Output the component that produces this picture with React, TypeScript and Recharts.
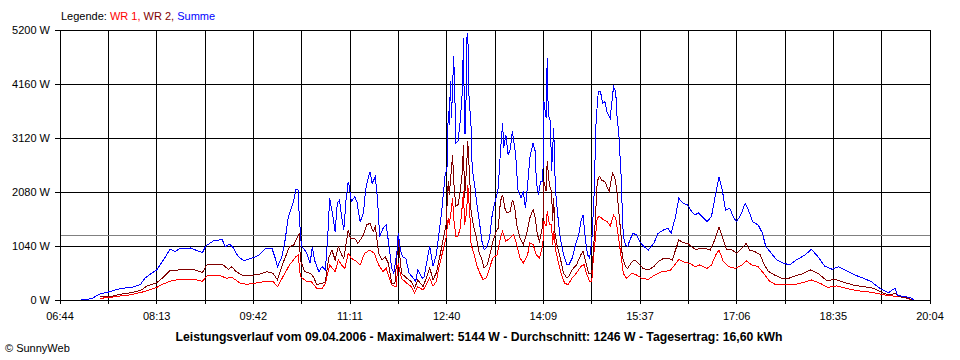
import { LineChart, Line, XAxis, YAxis, CartesianGrid, ReferenceLine } from "recharts"

// x values are minutes after 06:44, y values are watts
const timeLabels = ["06:44", "08:13", "09:42", "11:11", "12:40", "14:09", "15:37", "17:06", "18:35", "20:04"]
const spanMinutes = 800
const powerTicks = [0, 1040, 2080, 3120, 4160, 5200]
const average = 1246

const wr1: [number, number][] = [
  [37, 32], [46, 51], [55, 77], [66, 103], [77, 160], [89, 244], [95, 308], [101, 360], [110, 398], [123, 398],
  [131, 360], [135, 462], [147, 475], [153, 417], [158, 437], [166, 321], [172, 302], [183, 334], [187, 353], [196, 353],
  [200, 257], [205, 449], [211, 674], [217, 834], [219, 867], [221, 449], [227, 353], [231, 353], [236, 225], [241, 225],
  [244, 321], [248, 674], [253, 546], [256, 770], [259, 674], [262, 610], [265, 899], [268, 802], [273, 738], [276, 674],
  [280, 899], [285, 963], [289, 899], [293, 674], [297, 546], [300, 610], [305, 289], [309, 257], [311, 706], [314, 417],
  [319, 321], [323, 257], [326, 141], [329, 257], [334, 193], [340, 424], [343, 263], [346, 360], [349, 680], [352, 937],
  [355, 1194], [357, 1579], [358, 1451], [360, 1772], [361, 1965], [362, 1579], [364, 1226], [366, 1226], [368, 1387], [370, 1836],
  [371, 2093], [372, 1451], [374, 1708], [375, 2221], [377, 1579], [378, 1066], [381, 873], [383, 680], [386, 520], [389, 392],
  [392, 424], [395, 616], [398, 809], [402, 873], [405, 1194], [407, 1322], [410, 1130], [414, 1194], [417, 1258], [420, 1066],
  [423, 809], [426, 713], [430, 873], [432, 1098], [435, 1066], [438, 873], [441, 809], [444, 1066], [445, 1515], [447, 1419],
  [448, 1708], [450, 1451], [452, 1451], [453, 1066], [454, 1322], [456, 937], [458, 745], [461, 488], [464, 327], [467, 295],
  [471, 424], [475, 520], [479, 648], [482, 680], [484, 520], [487, 360], [489, 360], [490, 680], [492, 1130], [494, 1579],
  [496, 1611], [500, 1541], [503, 1509], [506, 1425], [509, 1637], [511, 1573], [513, 1284], [516, 835], [518, 514], [521, 417],
  [526, 514], [530, 482], [535, 417], [541, 398], [547, 482], [553, 546], [561, 565], [564, 642], [569, 783], [573, 738],
  [579, 706], [584, 642], [588, 674], [595, 610], [599, 674], [603, 867], [606, 963], [610, 738], [615, 642], [621, 610],
  [627, 674], [631, 757], [636, 674], [642, 642], [647, 514], [652, 372], [657, 308], [665, 289], [674, 289], [683, 334],
  [691, 385], [699, 321], [706, 244], [714, 270], [723, 225], [733, 180], [742, 160], [751, 128], [759, 96], [766, 77],
  [772, 64], [780, 32], [783, 0],
]

const wr2: [number, number][] = [
  [37, 64], [46, 64], [55, 109], [66, 141], [75, 193], [80, 270], [89, 334], [95, 437], [101, 565], [109, 578],
  [117, 597], [124, 578], [131, 533], [135, 674], [144, 687], [150, 674], [155, 591], [158, 642], [162, 546], [169, 462],
  [178, 481], [184, 501], [190, 546], [196, 514], [200, 385], [205, 706], [211, 1027], [215, 1059], [217, 1156], [220, 1284],
  [221, 770], [225, 546], [230, 514], [233, 449], [236, 300], [241, 321], [244, 353], [247, 802], [250, 963], [253, 770],
  [256, 1027], [259, 867], [261, 802], [265, 1348], [267, 1188], [271, 1188], [274, 1091], [279, 1252], [282, 1445], [285, 1477],
  [288, 1316], [290, 1412], [293, 899], [296, 770], [299, 834], [302, 706], [305, 321], [308, 321], [311, 1188], [314, 514],
  [319, 417], [323, 353], [326, 225], [329, 385], [334, 257], [340, 616], [343, 392], [346, 520], [349, 809], [352, 1130],
  [355, 1451], [357, 2286], [358, 2029], [360, 2542], [361, 2799], [362, 2286], [364, 1804], [366, 1836], [368, 2093], [370, 2478],
  [371, 2992], [372, 1965], [374, 2607], [375, 3056], [377, 2221], [378, 1708], [380, 1451], [383, 1194], [385, 937], [388, 777],
  [390, 616], [393, 680], [395, 841], [398, 1130], [401, 1322], [403, 1387], [405, 1900], [407, 2029], [409, 1772], [411, 1676],
  [414, 1708], [416, 1932], [418, 1804], [420, 1451], [423, 1194], [426, 1066], [429, 1258], [432, 1579], [435, 1740], [437, 1579],
  [439, 1258], [441, 1130], [444, 1451], [445, 2286], [447, 2093], [448, 2671], [450, 2221], [452, 2093], [453, 1515], [454, 1965],
  [455, 1322], [457, 1066], [460, 809], [463, 520], [466, 424], [468, 456], [471, 584], [475, 680], [479, 873], [481, 937],
  [484, 680], [486, 520], [489, 520], [490, 809], [492, 1451], [494, 2286], [496, 2382], [498, 2311], [501, 2279], [505, 2087],
  [508, 2440], [510, 2375], [512, 2119], [514, 1669], [516, 1220], [517, 835], [520, 642], [522, 610], [526, 738], [529, 770],
  [532, 706], [536, 610], [541, 578], [546, 642], [550, 738], [555, 802], [559, 802], [563, 770], [566, 963], [569, 1156],
  [573, 1104], [577, 1091], [581, 1027], [585, 963], [588, 995], [593, 995], [598, 963], [602, 1156], [606, 1412], [609, 1220],
  [613, 963], [618, 963], [622, 899], [627, 995], [631, 1091], [634, 963], [639, 931], [644, 867], [647, 706], [651, 559],
  [657, 481], [664, 417], [670, 417], [674, 449], [682, 501], [690, 578], [697, 514], [705, 372], [713, 398], [722, 334],
  [729, 289], [739, 257], [748, 225], [756, 141], [762, 96], [768, 128], [772, 64], [780, 32], [784, 0],
]

const summe: [number, number][] = [
  [19, 0], [29, 25], [37, 120], [46, 160], [52, 205], [60, 231], [67, 250], [74, 300], [78, 417], [84, 514],
  [89, 578], [94, 738], [98, 867], [101, 976], [106, 937], [110, 989], [120, 1002], [126, 950], [131, 912], [134, 1040],
  [141, 1136], [149, 1168], [152, 1027], [156, 1078], [159, 1014], [164, 835], [169, 758], [176, 802], [182, 854], [184, 886],
  [189, 989], [195, 989], [198, 802], [200, 642], [204, 834], [207, 1156], [210, 1605], [213, 1785], [215, 1926], [217, 2131],
  [219, 2119], [220, 1605], [222, 1027], [224, 995], [227, 899], [230, 706], [232, 1027], [234, 770], [238, 546], [241, 642],
  [244, 578], [246, 1156], [248, 1958], [251, 1605], [253, 1316], [255, 1862], [257, 1926], [259, 1605], [261, 1348], [263, 1926],
  [265, 2279], [266, 2183], [268, 1894], [271, 1990], [273, 1894], [276, 1509], [279, 1669], [281, 2119], [283, 2311], [285, 2472],
  [287, 2247], [290, 2375], [292, 1926], [294, 1220], [297, 1380], [300, 1445], [303, 963], [305, 610], [307, 514], [310, 963],
  [311, 1284], [313, 963], [315, 834], [318, 802], [321, 514], [324, 449], [327, 353], [329, 578], [333, 417], [335, 449],
  [337, 706], [340, 1034], [343, 648], [346, 873], [348, 1194], [351, 1708], [354, 2382], [356, 2574], [357, 3634], [358, 3377],
  [359, 4211], [360, 3505], [362, 4693], [363, 4019], [364, 3024], [366, 3056], [368, 3441], [370, 4019], [371, 5046], [372, 3216],
  [373, 3216], [374, 5046], [375, 5144], [376, 3955], [378, 3345], [379, 2542], [382, 2093], [383, 1900], [386, 1451], [388, 1130],
  [390, 969], [392, 1002], [395, 1194], [397, 1579], [399, 1804], [401, 1965], [403, 2157], [405, 2863], [407, 3409], [408, 2928],
  [410, 3184], [412, 2799], [414, 2895], [416, 3249], [417, 3088], [419, 2799], [421, 2125], [424, 1965], [426, 2093], [428, 1772],
  [430, 2221], [432, 2735], [435, 3024], [437, 2863], [438, 2286], [440, 2029], [442, 2286], [444, 2286], [445, 3826], [447, 3505],
  [448, 4661], [449, 3569], [451, 3441], [452, 2478], [454, 3313], [455, 2478], [456, 2029], [458, 1579], [460, 1194], [463, 873],
  [466, 680], [468, 680], [471, 809], [474, 1066], [477, 1258], [479, 1515], [481, 1643], [483, 1194], [485, 873], [487, 809],
  [489, 1130], [491, 1965], [493, 3467], [495, 4013], [497, 4013], [499, 3788], [501, 3820], [503, 3627], [506, 3499], [507, 3724],
  [509, 4109], [511, 4013], [512, 3595], [514, 3146], [516, 2375], [517, 1733], [518, 1220], [520, 1059], [522, 1027], [524, 1156],
  [527, 1284], [530, 1252], [533, 1124], [537, 1027], [541, 963], [546, 1091], [550, 1284], [555, 1348], [559, 1380], [562, 1284],
  [566, 1605], [569, 1958], [573, 1862], [577, 1830], [581, 1701], [584, 1637], [587, 1682], [592, 1573], [595, 1509], [599, 1605],
  [603, 2054], [606, 2375], [609, 2119], [612, 1733], [616, 1765], [619, 1605], [622, 1509], [626, 1637], [630, 1862], [633, 1733],
  [637, 1509], [642, 1444], [646, 1284], [649, 1027], [653, 931], [659, 770], [664, 719], [671, 674], [677, 770], [685, 867],
  [691, 976], [697, 835], [703, 655], [710, 591], [716, 642], [723, 565], [731, 481], [739, 417], [746, 353], [754, 225],
  [762, 141], [766, 205], [768, 225], [770, 96], [775, 64], [782, 51], [785, 0],
]

const xTicks = Array.from({ length: 19 }, (_, i) => (i * spanMinutes) / 18)

const toPoints = (rows: [number, number][]) => rows.map(([t, w]) => ({ t, w }))

const font = "Arial, 'Liberation Sans', sans-serif"

// old-school pixel look: no antialiasing on grid, axes and curves
const crisp = `
.recharts-cartesian-grid line,
.recharts-cartesian-axis-line,
.recharts-cartesian-axis-tick-line,
.recharts-reference-line line,
.recharts-line-curve { shape-rendering: crispEdges; }
`

export default function App() {
  return (
    <div style={{ position: "absolute", left: 0, top: 0, width: 960, height: 360, background: "#fff", fontFamily: font }}>
      <style>{crisp}</style>
      <LineChart width={960} height={360} margin={{ top: 30, right: 30, bottom: 0, left: 0 }}>
        <CartesianGrid stroke="#000" strokeWidth={1} />
        <XAxis
          dataKey="t"
          type="number"
          domain={[0, spanMinutes]}
          ticks={xTicks}
          interval={0}
          height={60}
          tickSize={4}
          tickMargin={8}
          stroke="#000"
          tick={{ fill: "#000", fontSize: 11, fontFamily: font }}
          tickFormatter={(_v: number, i: number) => (i % 2 === 0 ? timeLabels[i / 2] : "")}
        />
        <YAxis
          type="number"
          domain={[0, 5200]}
          ticks={powerTicks}
          interval={0}
          width={60}
          tickSize={5}
          tickMargin={5}
          stroke="#000"
          tick={{ fill: "#000", fontSize: 11, fontFamily: font }}
          tickFormatter={(v: number) => `${v} W`}
        />
        <ReferenceLine y={average} stroke="#808080" strokeWidth={1} />
        <Line data={toPoints(wr1)} dataKey="w" type="linear" stroke="#ff0000" strokeWidth={1} dot={false} isAnimationActive={false} />
        <Line data={toPoints(wr2)} dataKey="w" type="linear" stroke="#800000" strokeWidth={1} dot={false} isAnimationActive={false} />
        <Line data={toPoints(summe)} dataKey="w" type="linear" stroke="#0000ff" strokeWidth={1} dot={false} isAnimationActive={false} />
      </LineChart>
      <svg width={960} height={360} style={{ position: "absolute", left: 0, top: 0, pointerEvents: "none" }}>
        <text x={61} y={20} fontSize={11} fontFamily={font}>
          <tspan fill="#000">Legende: </tspan>
          <tspan fill="#ff0000">WR 1, </tspan>
          <tspan fill="#800000">WR 2, </tspan>
          <tspan fill="#0000ff">Summe</tspan>
        </text>
        <text x={479} y={341} fontSize={13} fontWeight="bold" textAnchor="middle" fontFamily={font} textLength={607} lengthAdjust="spacingAndGlyphs">
          Leistungsverlauf vom 09.04.2006 - Maximalwert: 5144 W - Durchschnitt: 1246 W - Tagesertrag: 16,60 kWh
        </text>
        <text x={5} y={352} fontSize={11} fontFamily={font}>© SunnyWeb</text>
      </svg>
    </div>
  )
}
